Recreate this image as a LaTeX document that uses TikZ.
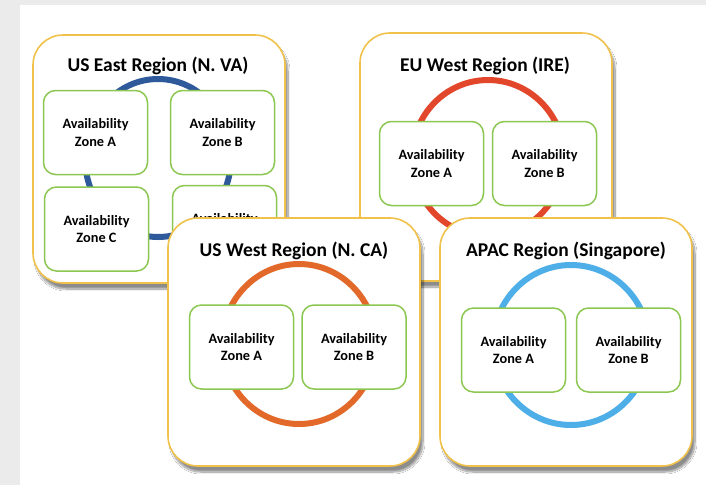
\documentclass[tikz,border=0pt]{standalone}
\usepackage{fontspec}
\setmainfont{Carlito}
\usetikzlibrary{shadows.blur}

\definecolor{backgray}{HTML}{EBEBEB}
\definecolor{regionline}{HTML}{F0C24B}
\definecolor{zoneline}{HTML}{8CC751}
\definecolor{eastblue}{HTML}{2E5A9C}
\definecolor{eured}{HTML}{E2462B}
\definecolor{westorange}{HTML}{E2692A}
\definecolor{apacblue}{HTML}{4EAEE8}

\begin{document}
\begin{tikzpicture}[%
      x=1pt, y=-1pt,
      region/.style={draw=regionline, line width=1.6pt, fill=white,
        rounded corners=30pt, minimum width=252pt, minimum height=248pt,
        blur shadow={shadow xshift=3pt, shadow yshift=-6pt,
          shadow blur steps=12, shadow opacity=45}},
      zone/.style={draw=zoneline, line width=1.5pt, fill=white,
        rounded corners=12pt, minimum width=104pt, minimum height=84pt,
        align=center, font=\fontsize{14.3}{17.5}\selectfont\bfseries},
      regiontitle/.style={font=\fontsize{19.5}{22}\selectfont\bfseries},
      ring/.style={line width=6pt},
      ]
      \useasboundingbox (0,0) rectangle (706,485);
      \fill [backgray] (0,0) rectangle (706,485);
      \fill [white] (20,5) rectangle (706,485);

      \node [region] (useast) at (159,159) {};
      \draw [ring, color=eastblue] (158,158) ellipse (73 and 79);
      \node [zone] (useastA) at (95.5,132.5) {Availability\\Zone A};
      \node [zone] (useastB) at (222.5,132.5) {Availability\\Zone B};
      \node [zone] (useastC) at (96.5,229) {Availability\\Zone C};
      \node [zone] (useastD) at (224.5,227.5) {Availability\\\phantom{Zone D}};
      \node [regiontitle] (useastT) at (158,66) {US East Region (N. VA)};

      \node [region] (euwest) at (486,157) {};
      \draw [ring, color=eured] (488,158) ellipse (76 and 78);
      \node [zone] (euwestA) at (431.5,163.5) {Availability\\Zone A};
      \node [zone] (euwestB) at (544.5,163.5) {Availability\\Zone B};
      \node [regiontitle] (euwestT) at (485,66) {EU West Region (IRE)};

      \node [region] (uswest) at (294,342) {};
      \draw [ring, color=westorange] (299,344) ellipse (77 and 80);
      \node [zone] (uswestA) at (241.5,347) {Availability\\Zone A};
      \node [zone] (uswestB) at (354,347) {Availability\\Zone B};
      \node [regiontitle] (uswestT) at (294,251) {US West Region (N. CA)};

      \node [region] (apac) at (566,342) {};
      \draw [ring, color=apacblue] (571,345) ellipse (78 and 80);
      \node [zone] (apacA) at (513.5,350) {Availability\\Zone A};
      \node [zone] (apacB) at (628.5,350) {Availability\\Zone B};
      \node [regiontitle] (apacT) at (566,251) {APAC Region (Singapore)};
      \end{tikzpicture}
\end{document}
